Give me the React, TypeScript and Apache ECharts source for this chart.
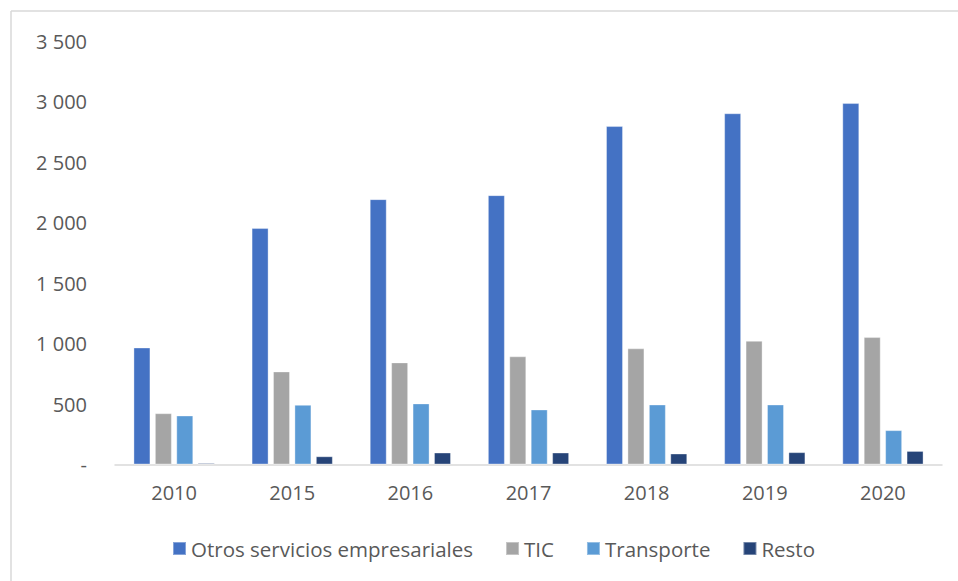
import React, { useEffect, useRef } from "react";
import * as echarts from "echarts";

const categories = ["2010", "2015", "2016", "2017", "2018", "2019", "2020"];
const seriesNames = ["Otros servicios empresariales", "TIC", "Transporte", "Resto"];
const otros = [967, 1954, 2193, 2226, 2797, 2903, 2987];
const tic = [424, 769, 844, 894, 960, 1022, 1053];
const transporte = [405, 493, 505, 455, 496, 496, 284];
const resto = [12, 68, 99, 99, 91, 102, 112];
const colors = ["#4472C4", "#A5A5A5", "#5B9BD5", "#264478"];

export default function App() {
  const ref = useRef<HTMLDivElement>(null);
  useEffect(() => {
    if (!ref.current) return;
    const chart = echarts.init(ref.current, null, { renderer: "svg" });
    const values = [otros, tic, transporte, resto];
    chart.setOption({
      animation: false,
      backgroundColor: "#ffffff",
      color: colors,
      textStyle: { fontFamily: "Open Sans" },
      graphic: [
        { type: "line", shape: { x1: 11, y1: 11, x2: 958, y2: 11 }, style: { stroke: "#D9D9D9", lineWidth: 1.5 } },
        { type: "line", shape: { x1: 11, y1: 11, x2: 11, y2: 581 }, style: { stroke: "#D9D9D9", lineWidth: 1.5 } },
      ],
      grid: { left: 115, right: 16, top: 41, bottom: 116.5, containLabel: false },
      legend: {
        left: 172,
        top: 538,
        padding: 0,
        itemWidth: 13,
        itemHeight: 13,
        itemGap: 32,
        icon: "rect",
        textStyle: { color: "#595959", fontSize: 20.5, fontFamily: "Open Sans" },
        data: seriesNames,
      },
      xAxis: {
        type: "category",
        data: categories,
        axisLine: { lineStyle: { color: "#D9D9D9", width: 1.5 } },
        axisTick: { show: false },
        axisLabel: { color: "#595959", fontSize: 20, margin: 18 },
      },
      yAxis: {
        type: "value",
        min: 0,
        max: 3500,
        interval: 500,
        axisLine: { show: false },
        axisTick: { show: false },
        splitLine: { show: false },
        axisLabel: {
          color: "#595959",
          fontSize: 20,
          margin: 28,
          formatter: (v: number) =>
            v === 0 ? "-" : String(v).replace(/\B(?=(\d{3})+(?!\d))/g, " "),
        },
      },
      series: seriesNames.map((name, i) => ({
        name,
        type: "bar",
        data: values[i],
        barWidth: 17,
        barGap: "26%",
        itemStyle: { color: colors[i], borderColor: "rgba(255,255,255,0.35)", borderWidth: 1 },
      })),
    });
    return () => chart.dispose();
  }, []);
  return <div ref={ref} style={{ width: 958, height: 581, position: "absolute", left: 0, top: 0 }} />;
}
